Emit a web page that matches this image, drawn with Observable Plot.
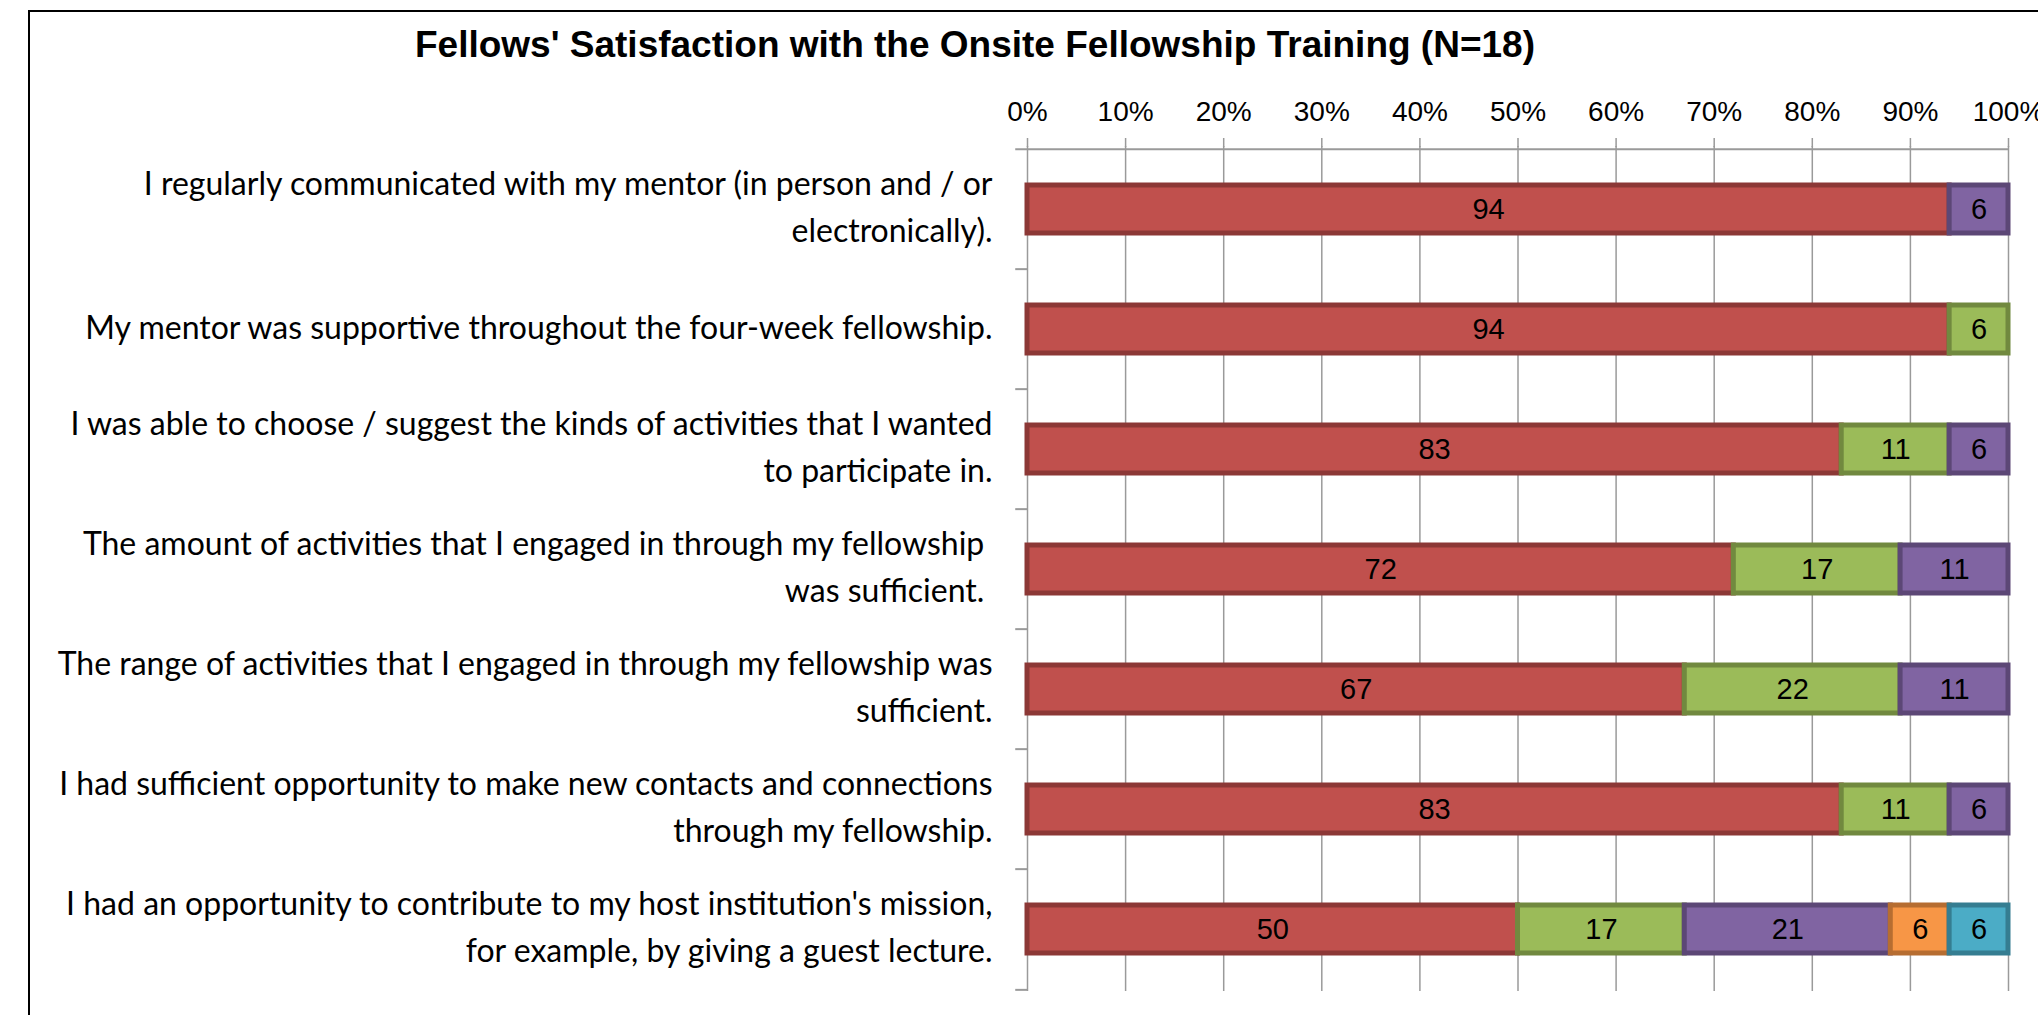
<!DOCTYPE html>
<html>
<head>
<meta charset="utf-8">
<script src="https://cdn.jsdelivr.net/npm/d3@7"></script>
<script src="https://cdn.jsdelivr.net/npm/@observablehq/plot@0.6"></script>
<style>
  html, body { margin: 0; padding: 0; background: #fff; overflow: hidden; }
  #wrap { position: relative; width: 2038px; height: 1015px; overflow: hidden; }
  #frame { position: absolute; left: 28px; top: 10px; width: 2100px; height: 1100px;
           border-left: 2px solid #000; border-top: 2px solid #000; box-sizing: border-box; }
  #title { position: absolute; left: 0; width: 1950px; top: 26px; text-align: center;
           font: bold 37px/37px "Liberation Sans", Arial, sans-serif; color: #000; }
  #chart { position: absolute; left: 0; top: 0; }
</style>
</head>
<body>
<div id="wrap">
  <div id="frame"></div>
  <div id="chart"></div>
  <div id="title">Fellows' Satisfaction with the Onsite Fellowship Training (N=18)</div>
</div>
<script>
const categories = [
  "I regularly communicated with my mentor (in person and / or\nelectronically).",
  "My mentor was supportive throughout the four-week fellowship.",
  "I was able to choose / suggest the kinds of activities that I wanted\nto participate in.",
  "The amount of activities that I engaged in through my fellowship\u00A0\nwas sufficient.\u00A0",
  "The range of activities that I engaged in through my fellowship was\nsufficient.",
  "I had sufficient opportunity to make new contacts and connections\nthrough my fellowship.",
  "I had an opportunity to contribute to my host institution's mission,\nfor example, by giving a guest lecture."
];
const seriesNames = ["Series 1", "Series 2", "Series 3", "Series 4", "Series 5"];
const series1 = [94, 94, 83, 72, 67, 83, 50];
const series2 = [0, 6, 11, 17, 22, 11, 17];
const series3 = [6, 0, 6, 11, 11, 6, 21];
const series4 = [0, 0, 0, 0, 0, 0, 6];
const series5 = [0, 0, 0, 0, 0, 0, 6];
const fillColors = ["#C0504D", "#9BBB59", "#8064A2", "#F79646", "#4BACC6"];
const strokeColors = ["#8C3836", "#71893F", "#5C4776", "#B66D31", "#357D91"];
const xTicks = [0, 10, 20, 30, 40, 50, 60, 70, 80, 90, 100];

const allSeries = [series1, series2, series3, series4, series5];
const data = [];
categories.forEach((c, i) => {
  allSeries.forEach((s, k) => {
    if (s[i] > 0) data.push({cat: c, series: seriesNames[k], k, value: s[i]});
  });
});

const W = 2038, H = 1015;
const mt = 146, mb = 24, ml = 1027, mr = 30;
const step = (H - mt - mb) / categories.length;
const gridColor = "#9a9a9a";

const plot = Plot.plot({
  width: W, height: H,
  marginTop: mt, marginBottom: mb, marginLeft: ml, marginRight: mr,
  style: {background: "transparent", overflow: "visible"},
  x: {domain: [0, 100]},
  y: {domain: categories, paddingInner: 0.6, paddingOuter: 0.3},
  color: {type: "identity"},
  marks: [
    Plot.ruleX(xTicks, {stroke: gridColor, strokeWidth: 1.5}),
    Plot.ruleY([categories[0]], {dy: -step / 2, x1: -1.2, x2: 100, stroke: gridColor, strokeWidth: 2}),
    Plot.ruleY(categories.slice(1), {dy: -step / 2, x1: -1.2, x2: 0, stroke: gridColor, strokeWidth: 2}),
    Plot.ruleY([categories[categories.length - 1]], {dy: step / 2, x1: -1.2, x2: 0, stroke: gridColor, strokeWidth: 2}),
    Plot.axisX({anchor: "top", ticks: xTicks, tickFormat: d => d + "%", tickSize: 9, tickPadding: 17,
      stroke: gridColor, strokeWidth: 1.5, fill: "#000", fontSize: 28,
      fontFamily: "'Liberation Sans', Arial, sans-serif", label: null}),
    Plot.axisY({tickSize: 0, tickPadding: 35, fontSize: 32, lineHeight: 1.47, dy: -6, fill: "#000",
      fontFamily: "Lato, 'Noto Sans', sans-serif", label: null}),
    Plot.barX(data, Plot.stackX({x: "value", y: "cat",
      fill: d => fillColors[d.k], stroke: d => strokeColors[d.k], strokeWidth: 5})),
    Plot.text(data, Plot.stackX({x: "value", y: "cat", text: d => String(d.value),
      fill: "#000", fontSize: 29, fontFamily: "'Liberation Sans', Arial, sans-serif"}))
  ]
});
document.getElementById("chart").appendChild(plot);
</script>
</body>
</html>
